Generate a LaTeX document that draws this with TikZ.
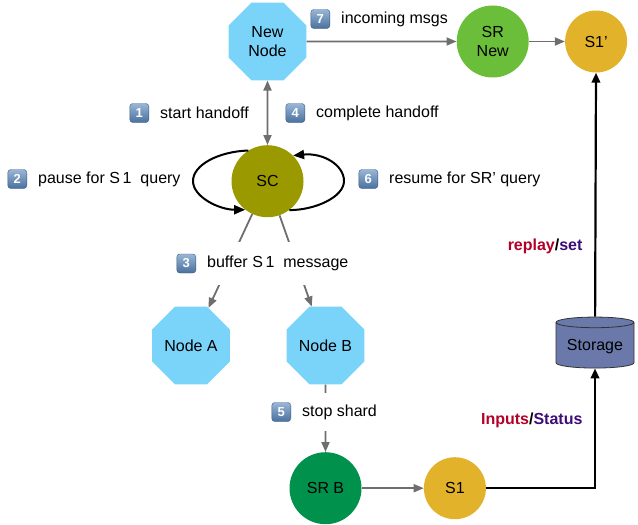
\documentclass[tikz,border=0pt]{standalone}
\usepackage{fontspec}
\setmainfont{Liberation Sans}
\usetikzlibrary{arrows.meta,positioning,shapes.geometric}
\definecolor{nodeblue}{RGB}{122,212,250}
\definecolor{srgreen}{RGB}{106,190,58}
\definecolor{srdark}{RGB}{0,146,76}
\definecolor{shardgold}{RGB}{227,178,43}
\definecolor{scolive}{RGB}{155,153,0}
\definecolor{storeblue}{RGB}{107,121,170}
\definecolor{linegray}{RGB}{110,110,110}
\definecolor{badgetop}{RGB}{152,182,214}
\definecolor{badgebot}{RGB}{74,112,158}
\definecolor{replayred}{RGB}{178,0,40}
\definecolor{setpurple}{RGB}{62,12,120}
\tikzset{
    octo/.style={regular polygon, regular polygon sides=8, fill=nodeblue, minimum size=84pt, inner sep=0pt, align=center},
    ball/.style={circle, minimum size=#1, inner sep=0pt, align=center},
    badge/.style={rounded corners=3pt, top color=badgetop, bottom color=badgebot, draw=badgebot!80!black, line width=0.4pt,
      text=white, font=\bfseries\fontsize{13}{13}\selectfont, minimum size=19pt, inner sep=0pt},
    note/.style={inner xsep=0pt, inner ysep=2pt, anchor=west},
    flow/.style={draw=linegray, line width=1.8pt, -{Triangle[length=10pt,width=8pt]}},
    feed/.style={draw=black, line width=2.2pt, -{Triangle[length=10pt,width=8.5pt]}},
    swing/.style={draw=black, line width=2pt, -{Triangle[length=11pt,width=9pt]}},
  }

\begin{document}
\begin{tikzpicture}[x=1pt, y=-1pt, font=\fontsize{16}{18.5}\selectfont]
    \useasboundingbox (0,0) rectangle (638,525);

    \node[octo] (newnode) at (267.5,41.5) {New\\Node};
    \node[ball=72pt, fill=srgreen, right=150pt of newnode] (srnew) {SR\\New};
    \node[ball=62pt, fill=shardgold, right=36pt of srnew] (s1p) {S1’};
    \draw[flow] (newnode) -- (srnew);
    \draw[flow] (srnew) -- (s1p);

    %% controller
    \node[ball=72pt, fill=scolive, below=64.5pt of newnode] (sc) {SC};
    \draw[flow, {Triangle[length=10pt,width=8pt]}-{Triangle[length=10pt,width=8pt]}] (newnode) -- (sc);
    \coordinate (lloop) at (193,181);
    \coordinate (rloop) at (344,181);
    \draw[swing] (sc.122) .. controls +(-30,1) and +(0,-16) .. (lloop)
      .. controls +(0,16) and +(-26,0) .. (sc.232);
    \draw[swing] (sc.307) .. controls +(26,0) and +(0,16) .. (rloop)
      .. controls +(0,-16) and +(30,-3) .. (sc.45);

    %% old nodes
    \node[octo] (nodea) at (191,345.5) {Node A};
    \node[octo] (nodeb) at (325.5,345.5) {Node B};
    \draw[flow] (sc) -- (nodea);
    \draw[flow] (sc) -- (nodeb);

    \node[ball=72pt, fill=srdark, below=67.5pt of nodeb] (srb) {SR B};
    \node[ball=62pt, fill=shardgold, right=62pt of srb] (s1) {S1};
    \draw[flow] (nodeb) -- (srb);
    \draw[flow] (srb) -- (s1);

    %% storage
    \node[cylinder, shape border rotate=90, aspect=0.17, draw=black!80, line width=0.8pt, fill=storeblue,
      minimum width=78pt, minimum height=51pt] (store) at (595,346.5) {Storage};
    \draw[feed] (s1) -| (store);
    \draw[feed] (store) -- (s1p);
    \node[anchor=east, font=\bfseries\fontsize{16}{18.5}\selectfont] (inputs) at (586,420)
      {\textcolor{replayred}{Inputs}/\textcolor{setpurple}{Status}};
    \node[anchor=east, font=\bfseries\fontsize{16}{18.5}\selectfont] (replay) at (586,246)
      {\textcolor{replayred}{replay}/\textcolor{setpurple}{set}};

    %% steps
    \node[note] (t1) at (160,113) {start handoff};
    \node[badge, left=11pt of t1] (b1) {1};
    \node[note] (t2) at (38,179) {pause for S\,1\ \ query};
    \node[badge, left=11pt of t2] (b2) {2};
    \node[note, fill=white, inner ysep=14pt] (t3) at (207,263.5) {buffer S\,1\ \ message};
    \node[badge, left=11pt of t3] (b3) {3};
    \node[note] (t4) at (316,113) {complete handoff};
    \node[badge, left=11pt of t4] (b4) {4};
    \node[note, fill=white, inner ysep=12pt] (t5) at (302,412) {stop shard};
    \node[badge, left=11pt of t5] (b5) {5};
    \node[note] (t6) at (389,179) {resume for SR’ query};
    \node[badge, left=11pt of t6] (b6) {6};
    \node[note] (t7) at (341,19) {incoming msgs};
    \node[badge, left=11pt of t7] (b7) {7};
  \end{tikzpicture}
\end{document}
